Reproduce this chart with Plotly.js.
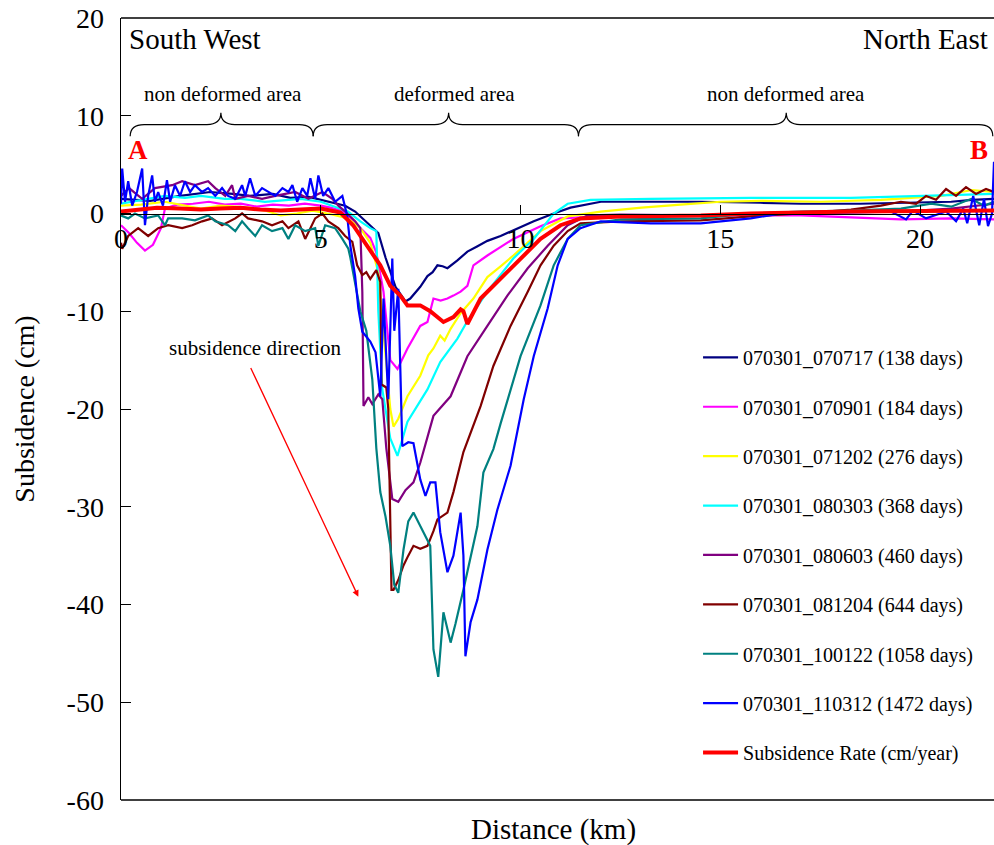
<!DOCTYPE html>
<html>
<head>
<meta charset="utf-8">
<script src="https://cdn.plot.ly/plotly-3.0.1.min.js"></script>
<style>html,body{margin:0;padding:0;background:#fff;}#chart{width:994px;height:845px;}</style>
</head>
<body>
<div id="chart"></div>
<script>
// ---- data (distance km, subsidence cm) ----
const seriesNames = [
  "070301_070717 (138 days)", "070301_070901 (184 days)", "070301_071202 (276 days)",
  "070301_080303 (368 days)", "070301_080603 (460 days)", "070301_081204 (644 days)",
  "070301_100122 (1058 days)", "070301_110312 (1472 days)", "Subsidence Rate (cm/year)"
];
const seriesColors = ["#000080","#FF00FF","#FFFF00","#00FFFF","#800080","#800000","#008080","#0000FF","#FF0000"];

const x138 = [0,0.73,1.48,2.23,2.8,3.23,3.8,4.24,4.7,5.24,5.61,5.86,6.12,6.24,6.44,6.62,6.87,7.12,7.24,7.49,7.67,7.8,7.92,8.05,8.17,8.42,8.67,8.9,9.17,9.5,9.82,10.33,10.83,11.25,12.01,13.0,14.51,16.0,17.02,18.5,19.52,20.78,21.3,21.85];
const y138 = [1.5,1.3,1.8,2.2,2.0,1.8,2.0,1.6,1.7,1.2,0.8,0.2,-0.8,-1.2,-2,-4.5,-7.5,-9,-8.7,-7.5,-6.4,-6.0,-5.3,-5.4,-5.6,-4.8,-3.9,-3.4,-2.8,-2.3,-1.7,-0.8,0,0.6,1.2,1.2,1.2,1.1,1.0,1.0,1.1,1.2,1.4,1.5];

const x184 = [0,0.2,0.4,0.6,0.8,1.0,1.1,1.4,1.8,2.2,2.6,3.0,3.4,3.8,4.2,4.6,5.0,5.24,5.49,5.74,5.99,6.24,6.39,6.57,6.74,6.92,7.17,7.35,7.49,7.67,7.82,8.0,8.17,8.32,8.5,8.67,8.82,9.17,9.5,9.82,10.5,11.0,12.01,14.51,17.02,18.27,19.52,20.78,21.85];
const y184 = [-1.2,-2.0,-3.0,-3.8,-3.2,-1.5,0.5,0.9,1.0,1.2,0.9,1.0,0.7,0.9,0.8,1.0,0.8,0.6,0.3,-0.5,-1.5,-2.5,-4,-8,-15,-15.9,-13.8,-12.5,-11.5,-11.1,-8.7,-8.9,-8.7,-8.4,-8.0,-7.4,-5.3,-4.3,-3.4,-2.6,-1.3,-0.5,-0.3,-0.2,-0.2,-0.4,-0.6,-0.5,-0.6];

const x276 = [0,0.5,1.1,1.6,2.0,2.5,2.8,3.2,3.6,4.0,4.4,4.8,5.28,5.68,5.99,6.24,6.44,6.62,6.74,6.82,6.94,7.17,7.35,7.49,7.69,7.82,7.99,8.1,8.25,8.5,8.82,9.17,9.5,9.82,10.5,11.18,12.01,13.03,14.01,15.01,16.02,17.52,19.02,20.53,21.3,21.85];
const y276 = [0.8,0.9,1.2,0.8,0.5,0.8,0.7,0.6,0.3,-0.2,0.0,0.3,-0.1,-0.5,-1.5,-3,-6,-14,-20,-21.8,-21,-18.7,-17.5,-16.6,-14.5,-13.8,-12.5,-13,-11.8,-10.2,-8.7,-6.5,-5.4,-4.3,-1.8,-0.3,0.2,0.6,0.9,1.2,1.3,1.2,1.4,1.8,2.4,2.2];

const x368 = [0,0.3,0.7,1.1,1.6,2.0,2.6,3.0,3.6,4.0,4.5,5.0,5.28,5.68,5.99,6.24,6.39,6.44,6.54,6.74,6.92,7.17,7.67,7.99,8.42,8.67,9.17,9.82,10.33,10.83,11.18,11.75,13.26,15.76,18.27,20.28,21.85];
const y368 = [1.0,1.2,1.5,1.8,1.6,1.8,1.5,1.5,1.2,1.3,1.5,1.2,0.8,0.2,-0.8,-1.5,-1.8,-10,-18,-23,-24.8,-21.3,-18,-15.2,-12.8,-11,-8,-4.6,-2.6,0,1.0,1.4,1.5,1.6,1.6,1.8,2.0];

const x460 = [0,0.2,0.53,0.85,1.28,1.53,1.85,2.18,2.36,2.61,2.78,2.86,3.18,3.53,3.86,4.36,4.69,5.04,5.29,5.44,5.61,5.86,5.99,6.04,6.07,6.19,6.29,6.44,6.54,6.64,6.79,6.94,7.12,7.32,7.49,7.82,8.25,8.67,9.17,9.67,10.18,10.68,11.18,11.68,12.51,14.51,15.76,18.27,19.52,20.78,21.85];
const y460 = [1.8,2.6,1.5,2.6,2.9,3.3,2.9,3.3,2.6,1.8,2.9,1.5,1.8,1.5,1.8,2.2,1.5,2.2,1.5,0.8,0.2,-0.8,-1.5,-8,-19.7,-18.8,-19.5,-18.5,-19,-24,-29.2,-29.5,-28.3,-27.5,-25.5,-20.7,-18.7,-14.6,-11.5,-8.4,-5.6,-3.3,-1.2,-0.2,-0.1,-0.2,0,0.1,0.2,0.5,1.0];

const x644 = [0,0.03,0.18,0.43,0.68,0.93,1.18,1.53,1.78,2.03,2.28,2.53,2.86,3.03,3.18,3.53,3.78,4.04,4.19,4.44,4.61,4.86,5.04,5.19,5.44,5.61,5.79,5.91,6.04,6.14,6.24,6.39,6.49,6.52,6.64,6.69,6.77,6.82,6.94,7.07,7.19,7.32,7.49,7.67,7.82,7.92,8.17,8.32,8.57,9.0,9.32,9.75,10.18,10.5,10.83,11.18,11.5,12.51,14.51,15.76,17.02,18.27,19.02,19.52,19.9,20.15,20.4,20.65,20.9,21.15,21.4,21.65,21.85];
const y644 = [-3.0,-3.6,-2.3,-1.5,-2.3,-1.5,-1.2,-1.5,-1.2,-0.8,-0.5,-1.2,-0.5,0,-0.5,-0.8,-1.2,-0.8,-1.5,-0.8,-2.6,-0.5,0,-0.8,-1.5,-2.3,-2.9,-5.3,-6.3,-6.0,-6.7,-5.8,-7,-17.5,-17.8,-20,-38.5,-38.5,-37.5,-36,-35,-34,-34.3,-34,-32.5,-31.3,-30.6,-28.5,-24.4,-19.7,-15.6,-11.5,-8,-5.3,-3.3,-1.8,-1.0,-0.8,-0.7,-0.3,0,0.4,0.8,1.2,1.0,1.8,1.4,2.5,1.8,2.7,2.0,2.5,2.2];

const x1058 = [0,0.18,0.35,0.6,0.93,1.1,1.18,1.53,1.85,2.18,2.36,2.68,2.86,3.03,3.18,3.36,3.53,3.78,4.04,4.19,4.36,4.61,4.86,4.94,5.11,5.36,5.54,5.69,5.74,5.86,5.99,6.14,6.29,6.39,6.49,6.62,6.74,6.84,6.94,7.07,7.19,7.32,7.49,7.67,7.74,7.82,7.94,8.07,8.25,8.37,8.57,8.92,9.07,9.32,9.5,10.0,10.5,10.83,11.18,11.5,12.51,14.51,15.76,17.02,18.27,19.52,20.28,20.78,21.28,21.6,21.85];
const y1058 = [-0.2,-0.5,0,-0.5,-0.2,-1.2,-0.5,-0.5,-0.7,-0.2,-0.8,-1.2,-1.8,-0.8,-1.5,-2.3,-1.2,-1.8,-1.5,-2.6,-1.2,-1.8,-1.5,-3.3,-1.2,-1.5,-2.6,-3.6,-4.5,-7,-10,-12,-17,-24,-28.5,-31,-34,-38,-38.8,-34.4,-31.5,-30.6,-32,-33.5,-34,-44.6,-47.4,-40.8,-43.9,-42,-38.5,-32,-26.5,-24.1,-21.5,-14.6,-9.4,-5.3,-2.6,-1.2,-0.6,-0.5,0,0.2,0.3,0.5,1.0,0.7,1.5,0.8,1.2];

const x1472 = [0,0.03,0.1,0.18,0.28,0.4,0.53,0.6,0.68,0.78,0.85,0.93,1.05,1.15,1.23,1.35,1.48,1.6,1.73,1.85,2.03,2.18,2.36,2.53,2.68,2.86,3.03,3.11,3.23,3.36,3.53,3.68,3.86,4.04,4.19,4.29,4.41,4.54,4.66,4.74,4.86,4.94,5.06,5.19,5.36,5.54,5.66,5.74,5.86,5.94,6.04,6.24,6.37,6.49,6.57,6.69,6.79,6.84,6.94,7.04,7.19,7.32,7.49,7.62,7.74,7.87,7.99,8.17,8.32,8.5,8.57,8.62,8.75,8.92,9.17,9.42,9.75,10.08,10.33,10.68,10.93,11.18,11.5,12.01,13.26,14.51,15.76,16.52,18.27,19.27,19.65,19.82,20.15,20.65,20.9,21.08,21.18,21.33,21.48,21.6,21.7,21.8,21.85];
const y1472 = [1.0,4.6,1.2,3.3,0.8,2.2,4.6,-1.2,1.8,3.9,1.2,2.2,0.8,3.4,1.2,2.9,1.8,3.3,2.2,2.9,2.2,2.6,1.8,2.6,1.8,1.5,2.9,1.8,3.6,1.8,2.6,2.2,1.8,2.6,2.2,2.9,1.2,2.6,1.8,3.6,1.5,3.9,1.8,2.6,1.2,1.8,-0.2,-3.3,-6.4,-9.7,-12.1,-13.1,-14.2,-18.7,-8.7,-19,-4.6,-12,-7.7,-23.8,-23.4,-23.5,-27.2,-28.9,-27.5,-27.5,-32.6,-36.7,-35,-30.6,-35,-45.3,-41.8,-39.5,-34.4,-30.3,-25.8,-19,-14.6,-9.7,-5.3,-2.6,-1.5,-0.8,-1.0,-1.0,-0.5,0,0.1,0.2,-0.6,0.3,-0.5,0.2,-0.8,0.5,-1,1.8,-1.2,1.5,-1.3,0,5.3];

const xRate = [0,0.48,0.9,1.48,2.0,2.48,3.0,3.48,4.0,4.49,5.0,5.24,5.49,5.81,6.17,6.49,6.74,6.99,7.17,7.49,7.74,8.07,8.32,8.5,8.57,8.67,9.0,9.5,10.0,10.5,11.0,11.5,12.51,14.51,15.76,18.27,21.85];
const yRate = [0.2,0.4,0.6,0.5,0.4,0.5,0.6,0.4,0.3,0.4,0.5,0.3,0.1,-1.2,-3.3,-5.3,-7.4,-8.4,-9.4,-9.4,-10,-11.1,-10.6,-9.8,-10,-11.3,-8.7,-6.7,-4.6,-2.6,-1.2,-0.5,-0.3,-0.2,0,0.2,0.3];

const xTicks = [0,5,10,15,20];
const xTickText = ["0","5","10","15","20"];
const yTicks = [-60,-50,-40,-30,-20,-10,0,10,20];
const yTickText = ["-60","-50","-40","-30","-20","-10","0","10","20"];

// ---- traces ----
const xs = [x138,x184,x276,x368,x460,x644,x1058,x1472,xRate];
const ys = [y138,y184,y276,y368,y460,y644,y1058,y1472,yRate];
const traces = xs.map((xv,i)=>({
  x: xv, y: ys[i], type:'scatter', mode:'lines', name: seriesNames[i],
  legendgroup: 'g'+i,
  line: {color: seriesColors[i], width: i===8 ? 4 : 2.2}
}));

const FONT = "Liberation Serif";

function brace(x0, x1, xt, yEnd, yH, yTip, r){
  return `M ${x0},${yEnd} Q ${x0},${yH} ${x0+r},${yH} L ${xt-r},${yH} Q ${xt},${yH} ${xt},${yTip} Q ${xt},${yH} ${xt+r},${yH} L ${x1-r},${yH} Q ${x1},${yH} ${x1},${yEnd}`;
}
const yEnd = 7.9, yH = 9.1, yTip = 10.3, rr = 0.35;
const braceLine = {color:'black', width:1.2};

const layout = {
  width: 994, height: 845,
  margin: {l:121, r:0, t:18, b:45},
  paper_bgcolor:'white', plot_bgcolor:'white',
  font: {family: FONT, color:'black'},
  showlegend: true,
  legend: {x:0.661, y:0.591, xanchor:'left', yanchor:'top', bgcolor:'rgba(0,0,0,0)',
           itemwidth: 35,
           font:{family:FONT, size:20, color:'black'}, tracegroupgap: 20.4},
  xaxis: {range:[0,21.85], tickvals:xTicks, ticktext:xTickText,
          anchor:'free', position:0.75, showline:true, linecolor:'black', linewidth:1,
          ticks:'inside', ticklen:9, tickcolor:'black', showgrid:false, zeroline:false,
          tickfont:{family:FONT, size:28, color:'black'}},
  yaxis: {range:[-60,20], tickvals:yTicks, ticktext:yTickText, showline:true, linecolor:'black', linewidth:1.5,
          ticks:'inside', ticklen:10, tickcolor:'black', showgrid:false, zeroline:false,
          ticklabelstandoff: 10,
          tickfont:{family:FONT, size:28, color:'black'},
          title:{text:'Subsidence (cm)', font:{family:FONT, size:28, color:'black'}, standoff:24}},
  shapes: [
    {type:'line', xref:'paper', yref:'paper', x0:0, x1:1, y0:1, y1:1, line:{color:'black', width:1.5}},
    {type:'line', xref:'paper', yref:'paper', x0:0, x1:1, y0:0, y1:0, line:{color:'black', width:1.5}},
    {type:'path', xref:'x', yref:'y', path: brace(0.23, 4.81, 2.5, yEnd, yH, yTip, rr), line: braceLine},
    {type:'path', xref:'x', yref:'y', path: brace(4.81, 11.45, 8.2, yEnd, yH, yTip, rr), line: braceLine},
    {type:'path', xref:'x', yref:'y', path: brace(11.45, 21.82, 16.65, yEnd, yH, yTip, rr), line: braceLine}
  ],
  annotations: [
    {x:0.15, y:17.9, xref:'x', yref:'y', text:'South West', showarrow:false, xanchor:'left', yanchor:'middle', font:{family:FONT, size:29}},
    {x:21.75, y:17.9, xref:'x', yref:'y', text:'North East', showarrow:false, xanchor:'right', yanchor:'middle', font:{family:FONT, size:29}},
    {x:2.56, y:12.2, xref:'x', yref:'y', text:'non deformed area', showarrow:false, font:{family:FONT, size:21}},
    {x:8.35, y:12.2, xref:'x', yref:'y', text:'deformed area', showarrow:false, font:{family:FONT, size:21}},
    {x:16.64, y:12.2, xref:'x', yref:'y', text:'non deformed area', showarrow:false, font:{family:FONT, size:21}},
    {x:0.43, y:6.45, xref:'x', yref:'y', text:'<b>A</b>', showarrow:false, font:{family:FONT, size:27, color:'#FF0000'}},
    {x:21.48, y:6.45, xref:'x', yref:'y', text:'<b>B</b>', showarrow:false, font:{family:FONT, size:27, color:'#FF0000'}},
    {x:3.36, y:-13.8, xref:'x', yref:'y', text:'subsidence direction', showarrow:false, font:{family:FONT, size:21}},
    {x:5.94, y:-39.2, ax:3.23, ay:-15.65, xref:'x', yref:'y', axref:'x', ayref:'y', text:'', showarrow:true,
     arrowhead:2, arrowsize:1, arrowwidth:1.3, arrowcolor:'#FF0000'},
    {x:0.495, y:-0.038, xref:'paper', yref:'paper', text:'Distance (km)', showarrow:false, yanchor:'middle', font:{family:FONT, size:29}}
  ]
};

Plotly.newPlot('chart', traces, layout, {displayModeBar:false, staticPlot:true});
</script>
</body>
</html>
